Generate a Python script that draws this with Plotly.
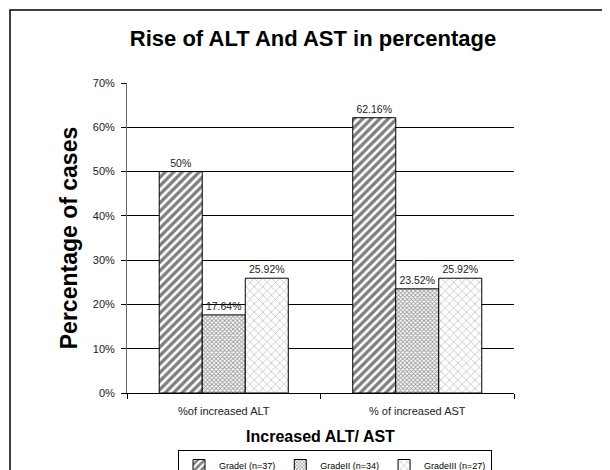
import plotly.graph_objects as go

categories = ["%of increased ALT", "% of increased AST"]
grade1 = [50.0, 62.16]
grade2 = [17.64, 23.52]
grade3 = [25.92, 25.92]
series_names = ["GradeI (n=37)", "GradeII (n=34)", "GradeIII (n=27)"]
y_ticks = [0, 10, 20, 30, 40, 50, 60, 70]

# page body has an 8px margin; size figure to fill the rest of the window
OFF = 8
W, H = 610 - OFF, 470 - OFF
# plot area in screen pixels: x 127..514, y 83..393
L = 127 - OFF
R = (610 - 514)
T = 83 - OFF
B = 470 - 393
pw, ph = W - L - R, H - T - B

def px_x(x):
    return (x - OFF - L) / pw

def px_y(y):
    return (H - B - (y - OFF)) / ph

patterns = [
    dict(shape="/", size=6, solidity=0.55, fgcolor="#000000", bgcolor="#ffffff"),
    dict(shape="x", size=3, solidity=0.5, fgcolor="#333333", bgcolor="#ffffff"),
    dict(shape="x", size=6, solidity=0.2, fgcolor="#666666", bgcolor="#ffffff"),
]

fig = go.Figure()
for name, vals, pat in zip(series_names, [grade1, grade2, grade3], patterns):
    fig.add_trace(go.Bar(
        x=categories, y=vals, name=name,
        marker=dict(color="#ffffff", pattern=pat, line=dict(color="#000000", width=1)),
        text=[f"{v:g}%" for v in vals], textposition="outside",
        textfont=dict(family="Liberation Sans, Arial", size=10.5, color="#222222"),
        cliponaxis=False,
    ))

fig.update_layout(
    width=W, height=H,
    margin=dict(l=L, r=R, t=T, b=B, autoexpand=False),
    paper_bgcolor="white", plot_bgcolor="white",
    barmode="group", bargap=0.333, bargroupgap=0,
    font=dict(family="Liberation Sans, Arial", color="#000000"),
    title=dict(text="<b>Rise of ALT And AST in percentage</b>",
               font=dict(size=22, color="#000000"),
               x=(313 - OFF) / W, xref="container", xanchor="center",
               y=1 - (38 - OFF) / H, yref="container", yanchor="middle"),
    showlegend=True,
    legend=dict(orientation="h", x=px_x(335), xanchor="center",
                y=px_y(450), yanchor="top",
                font=dict(size=9, color="#000000"),
                bordercolor="#000000", borderwidth=1, bgcolor="white",
                itemwidth=30, tracegroupgap=0),
)
fig.update_xaxes(
    type="category", showline=True, linecolor="#000000", linewidth=1,
    ticks="outside", tickson="boundaries", ticklen=5, tickcolor="#000000",
    tickfont=dict(size=11, color="#222222"), ticklabelstandoff=8,
    title=dict(text="<b>Increased ALT/ AST</b>", font=dict(size=16, color="#000000"), standoff=14),
    showgrid=False,
)
fig.update_yaxes(
    range=[0, 70], tickvals=y_ticks, ticktext=[f"{v}%" for v in y_ticks],
    showline=True, linecolor="#666666", linewidth=1,
    ticks="outside", ticklen=5, tickcolor="#000000",
    tickfont=dict(size=11, color="#222222"), ticklabelstandoff=4,
    showgrid=True, gridcolor="#000000", gridwidth=1,
    title=dict(text="<b>Percentage of cases</b>", font=dict(size=23, color="#000000"), standoff=8),
    zeroline=False,
)
fig.add_shape(type="rect", xref="paper", yref="paper",
              x0=px_x(10), y0=px_y(500), x1=px_x(650), y1=px_y(10),
              line=dict(color="#000000", width=1.5), fillcolor="rgba(0,0,0,0)", layer="above")

fig.write_html("out.html")
